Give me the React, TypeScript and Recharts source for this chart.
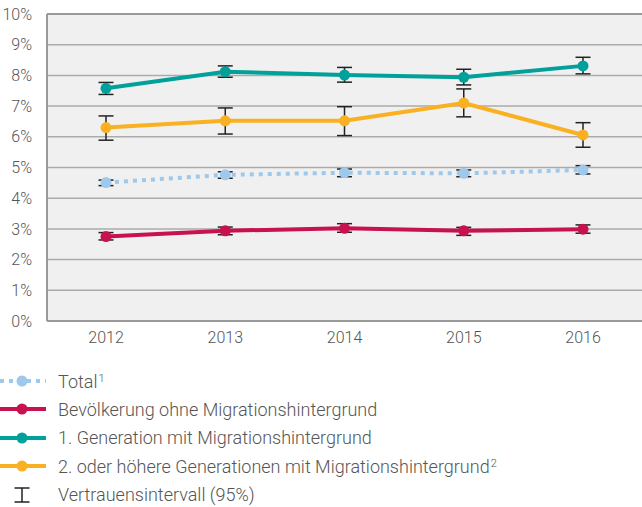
import React from 'react';
import { LineChart, Line, XAxis, YAxis, CartesianGrid, ErrorBar, ReferenceLine } from 'recharts';

const years = ['2012', '2013', '2014', '2015', '2016'];

const total = [4.51, 4.76, 4.83, 4.81, 4.92];
const totalLo = [4.41, 4.65, 4.7, 4.7, 4.79];
const totalHi = [4.59, 4.86, 4.95, 4.92, 5.06];

const ohne = [2.75, 2.94, 3.02, 2.94, 2.99];
const ohneLo = [2.64, 2.81, 2.89, 2.79, 2.86];
const ohneHi = [2.88, 3.06, 3.17, 3.05, 3.13];

const gen1 = [7.58, 8.12, 8.01, 7.94, 8.31];
const gen1Lo = [7.38, 7.94, 7.78, 7.69, 8.05];
const gen1Hi = [7.77, 8.31, 8.26, 8.2, 8.59];

const gen2 = [6.3, 6.52, 6.52, 7.1, 6.06];
const gen2Lo = [5.89, 6.09, 6.04, 6.65, 5.66];
const gen2Hi = [6.68, 6.94, 6.98, 7.56, 6.46];

const yTicks = [0, 1, 2, 3, 4, 5, 6, 7, 8, 9, 10];

const COLORS = {
  total: '#9ec8ec',
  ohne: '#c8114f',
  gen1: '#00a19b',
  gen2: '#f9b122',
};

const err = (v: number[], lo: number[], hi: number[], i: number) => [v[i] - lo[i], hi[i] - v[i]];

const data = years.map((year, i) => ({
  year,
  total: total[i],
  totalErr: err(total, totalLo, totalHi, i),
  ohne: ohne[i],
  ohneErr: err(ohne, ohneLo, ohneHi, i),
  gen1: gen1[i],
  gen1Err: err(gen1, gen1Lo, gen1Hi, i),
  gen2: gen2[i],
  gen2Err: err(gen2, gen2Lo, gen2Hi, i),
}));

const font = 'Roboto, sans-serif';
const textColor = '#555';

function LegendIcon({ color, dotted }: { color: string; dotted?: boolean }) {
  return (
    <svg width={46} height={14} style={{ display: 'block' }}>
      <line
        x1={0}
        y1={7}
        x2={46}
        y2={7}
        stroke={color}
        strokeWidth={4}
        strokeDasharray={dotted ? '4 5' : undefined}
      />
      <circle cx={22} cy={7} r={5.5} fill={color} />
    </svg>
  );
}

function ErrorIcon() {
  return (
    <svg width={46} height={18} style={{ display: 'block' }}>
      <g stroke="#222" strokeWidth={1.5}>
        <line x1={22} y1={2} x2={22} y2={16} />
        <line x1={14.5} y1={2} x2={29.5} y2={2} />
        <line x1={14.5} y1={16} x2={29.5} y2={16} />
      </g>
    </svg>
  );
}

const legendItems = [
  { label: 'Total', sup: '1', icon: <LegendIcon color={COLORS.total} dotted /> },
  { label: 'Bevölkerung ohne Migrationshintergrund', icon: <LegendIcon color={COLORS.ohne} /> },
  { label: '1. Generation mit Migrationshintergrund', icon: <LegendIcon color={COLORS.gen1} /> },
  { label: '2. oder höhere Generationen mit Migrationshintergrund', sup: '2', icon: <LegendIcon color={COLORS.gen2} /> },
  { label: 'Vertrauensintervall (95%)', icon: <ErrorIcon /> },
];

export default function App() {
  const errProps = { width: 7.5, strokeWidth: 1.5, stroke: '#222', direction: 'y' as const };
  return (
    <div style={{ position: 'absolute', left: 0, top: 0, width: 642, height: 507, background: '#fff', fontFamily: font }}>
      <LineChart width={642} height={356} data={data} margin={{ top: 14, right: 0, left: 0, bottom: 0 }}>
        <CartesianGrid vertical={false} fill="#f0f0f0" stroke="#ababab" strokeWidth={1.5} />
        <XAxis
          dataKey="year"
          padding={{ left: 59, right: 59 }}
          tickLine={false}
          tickSize={0}
          tickMargin={11}
          height={35}
          axisLine={{ stroke: '#999', strokeWidth: 2 }}
          tick={{ fill: textColor, fontSize: 16, fontFamily: font, fontWeight: 300 }}
        />
        <YAxis
          domain={[0, 10]}
          ticks={yTicks}
          width={47}
          tickLine={false}
          tickSize={0}
          tickMargin={15}
          tickFormatter={(v) => `${v}%`}
          axisLine={{ stroke: '#999', strokeWidth: 2 }}
          tick={{ fill: textColor, fontSize: 16, fontFamily: font, fontWeight: 300 }}
        />
        <ReferenceLine y={10} stroke="#999" strokeWidth={2} />
        <Line
          dataKey="total"
          stroke={COLORS.total}
          strokeWidth={4}
          strokeDasharray="4 5"
          dot={{ r: 5.5, fill: COLORS.total, stroke: COLORS.total, strokeWidth: 0 }}
          activeDot={false}
          isAnimationActive={false}
        >
          <ErrorBar dataKey="totalErr" {...errProps} />
        </Line>
        <Line
          dataKey="ohne"
          stroke={COLORS.ohne}
          strokeWidth={4}
          dot={{ r: 5.5, fill: COLORS.ohne, stroke: COLORS.ohne, strokeWidth: 0 }}
          activeDot={false}
          isAnimationActive={false}
        >
          <ErrorBar dataKey="ohneErr" {...errProps} />
        </Line>
        <Line
          dataKey="gen1"
          stroke={COLORS.gen1}
          strokeWidth={4}
          dot={{ r: 5.5, fill: COLORS.gen1, stroke: COLORS.gen1, strokeWidth: 0 }}
          activeDot={false}
          isAnimationActive={false}
        >
          <ErrorBar dataKey="gen1Err" {...errProps} />
        </Line>
        <Line
          dataKey="gen2"
          stroke={COLORS.gen2}
          strokeWidth={4}
          dot={{ r: 5.5, fill: COLORS.gen2, stroke: COLORS.gen2, strokeWidth: 0 }}
          activeDot={false}
          isAnimationActive={false}
        >
          <ErrorBar dataKey="gen2Err" {...errProps} />
        </Line>
      </LineChart>
      {legendItems.map((item, i) => (
        <div
          key={item.label}
          style={{
            position: 'absolute',
            left: 0,
            top: 381 + i * 28.4 - 12,
            height: 24,
            display: 'flex',
            alignItems: 'center',
            color: textColor,
            fontSize: 18,
            fontWeight: 300,
            whiteSpace: 'nowrap',
          }}
        >
          <div style={{ width: 58 }}>{item.icon}</div>
          <span>
            {item.label}
            {item.sup && <sup style={{ fontSize: 11, verticalAlign: 'top', lineHeight: '16px', marginLeft: 1 }}>{item.sup}</sup>}
          </span>
        </div>
      ))}
    </div>
  );
}
